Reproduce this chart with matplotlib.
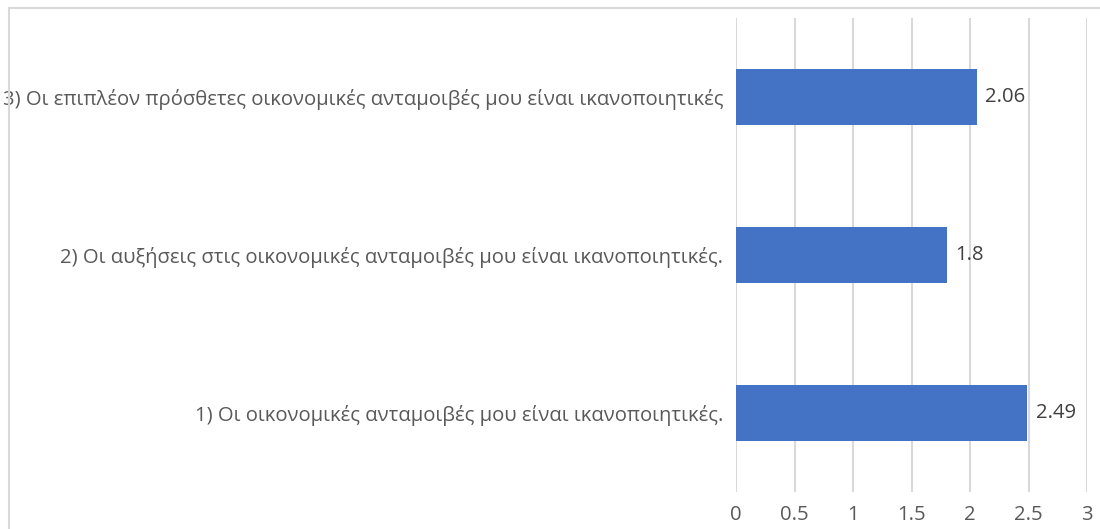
import matplotlib
matplotlib.use("Agg")
import matplotlib.pyplot as plt
from matplotlib.patches import Rectangle

plt.rcParams['font.family'] = ['Open Sans', 'DejaVu Sans']

categories = [
    "1) Οι οικονομικές ανταμοιβές μου είναι ικανοποιητικές.",
    "2) Οι αυξήσεις στις οικονομικές ανταμοιβές μου είναι ικανοποιητικές.",
    "3) Οι επιπλέον πρόσθετες οικονομικές ανταμοιβές μου είναι ικανοποιητικές",
]
values = [2.49, 1.8, 2.06]
value_labels = ["2.49", "1.8", "2.06"]
xticks = [0, 0.5, 1, 1.5, 2, 2.5, 3]
xtick_labels = ["0", "0.5", "1", "1.5", "2", "2.5", "3"]

W, H, DPI = 1100, 529, 100
fig = plt.figure(figsize=(W / DPI, H / DPI), dpi=DPI)

# chart area frame
fig.patches.append(Rectangle((9 / W, -0.1), 1.2, 1 - 8 / H + 0.1, transform=fig.transFigure,
                             fill=False, edgecolor="#d9d9d9", linewidth=1.5))

ax = fig.add_axes([736 / W, 1 - 492 / H, (1087 - 736) / W, (492 - 18) / H])
ypos = list(range(len(categories)))
ax.barh(ypos, values, height=0.355, color="#4472C4", zorder=3)
for y, v, lab in zip(ypos, values, value_labels):
    ax.text(v + 0.07, y, lab, va="center", ha="left", fontsize=14.6, color="#404040")

ax.set_xlim(0, 3)
ax.set_ylim(-0.5, 2.5)
ax.set_xticks(xticks)
ax.set_xticklabels(xtick_labels)
ax.set_yticks(ypos)
ax.set_yticklabels(categories)
ax.tick_params(axis="x", length=0, pad=9, labelsize=14.6, labelcolor="#595959")
ax.tick_params(axis="y", length=0, pad=9, labelsize=14.6, labelcolor="#595959")
ax.grid(axis="x", color="#d9d9d9", linewidth=1.5, zorder=0)
for s in ax.spines.values():
    s.set_visible(False)

fig.savefig("out.png", dpi=DPI)
